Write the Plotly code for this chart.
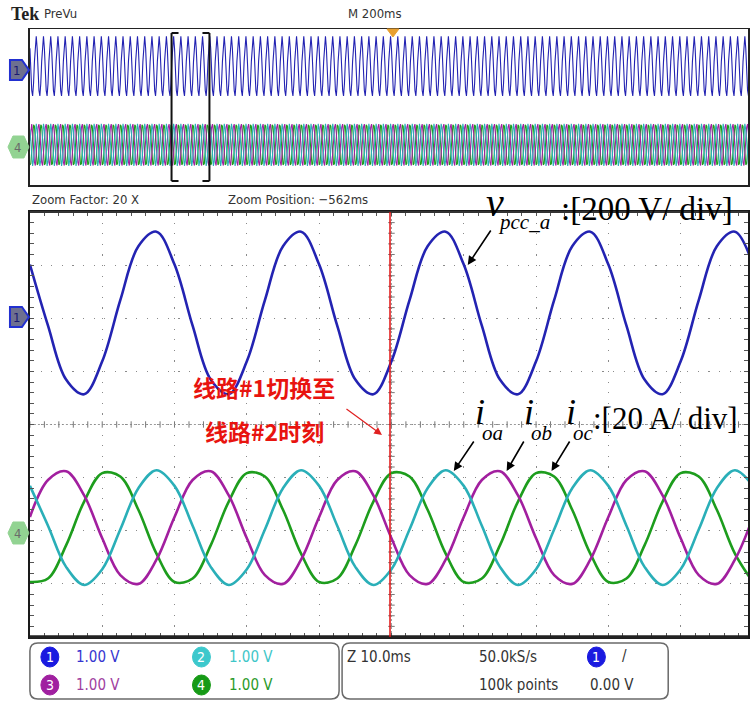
import numpy as np
import plotly.graph_objects as go

W, H = 750, 701

time_ms = [2.5 * k for k in range(41)]          # 0 … 100 ms, zoomed window (10 ms/div)
v_pcc_a = [182, -48, -251, -306, -182, 48, 251, 306,
           182, -48, -251, -306, -182, 48, 251, 306,
           182, -48, -251, -306, -182, 48, 251, 306,
           182, -48, -251, -306, -182, 48, 251, 306,
           182, -48, -251, -306, -182, 48, 251, 306,
           182]                                   # V
i_oa = [15.7, 0.7, -14.8, -21.6, -15.7, -0.7, 14.8, 21.6,
        15.7, 0.7, -14.8, -21.6, -15.7, -0.7, 14.8, 21.6,
        15.7, 0.7, -14.8, -21.6, -15.7, -0.7, 14.8, 21.6,
        15.7, 0.7, -14.8, -21.6, -15.7, -0.7, 14.8, 21.6,
        15.7, 0.7, -14.8, -21.6, -15.7, -0.7, 14.8, 21.6,
        15.7]                                     # A
i_ob = [4.0, 17.9, 21.2, 12.1, -4.0, -17.9, -21.2, -12.1,
        4.0, 17.9, 21.2, 12.1, -4.0, -17.9, -21.2, -12.1,
        4.0, 17.9, 21.2, 12.1, -4.0, -17.9, -21.2, -12.1,
        4.0, 17.9, 21.2, 12.1, -4.0, -17.9, -21.2, -12.1,
        4.0, 17.9, 21.2, 12.1, -4.0, -17.9, -21.2, -12.1,
        4.0]
i_oc = [-20.5, -19.2, -6.7, 9.8, 20.5, 19.2, 6.7, -9.8,
        -20.5, -19.2, -6.7, 9.8, 20.5, 19.2, 6.7, -9.8,
        -20.5, -19.2, -6.7, 9.8, 20.5, 19.2, 6.7, -9.8,
        -20.5, -19.2, -6.7, 9.8, 20.5, 19.2, 6.7, -9.8,
        -20.5, -19.2, -6.7, 9.8, 20.5, 19.2, 6.7, -9.8,
        -20.5]
v_scale = 200.0      # V/div
i_scale = 20.0       # A/div
v_offset = 2.1       # div
i_offset = -1.94     # div
switch_ms = 49.8     # instant of line #1 -> line #2
zoom_factor = 20
overview_cycles = 100

# ---------------- helpers ----------------
def X(x):
    return x / W
def Y(y):
    return 1 - y / H
def fmt(x, y):
    return f"{X(x):.5f},{Y(y):.5f}"
def poly(pts):
    return "M " + " L ".join(fmt(x, y) for x, y in pts) + " Z"
def rrect(x0, y0, x1, y1, r):
    return (f"M {fmt(x0+r,y0)} L {fmt(x1-r,y0)} Q {fmt(x1,y0)} {fmt(x1,y0+r)} "
            f"L {fmt(x1,y1-r)} Q {fmt(x1,y1)} {fmt(x1-r,y1)} L {fmt(x0+r,y1)} "
            f"Q {fmt(x0,y1)} {fmt(x0,y1-r)} L {fmt(x0,y0+r)} Q {fmt(x0,y0)} {fmt(x0+r,y0)} Z")

C_BLUE = "#2323b2"
C_CYAN = "#2aafb8"
C_MAG = "#a21f9f"
C_GRN = "#1d9d1d"
UI_FONT = "DejaVu Sans Condensed, Liberation Sans Narrow, Roboto Condensed, DejaVu Sans, sans-serif"
SERIF = "Liberation Serif, Times New Roman, serif"

fig = go.Figure()

# ---------------- overview (PreVu) ----------------
step = time_ms[1] - time_ms[0]
n_cyc = 8
ov_t = [k * step for k in range(n_cyc * overview_cycles + 1)]
def tile(a):
    return list(np.tile(a[:n_cyc], overview_cycles)) + [a[0]]
for arr, col, sc, off in [(i_oc, C_GRN, i_scale, i_offset), (i_ob, C_MAG, i_scale, i_offset),
                          (i_oa, C_CYAN, i_scale, i_offset), (v_pcc_a, C_BLUE, v_scale, v_offset)]:
    fig.add_trace(go.Scatter(x=ov_t, y=[v / sc + off for v in tile(arr)], mode="lines",
                             line=dict(color=col, width=1.1), xaxis="x2", yaxis="y2",
                             hoverinfo="skip", showlegend=False))

# ---------------- main zoomed traces ----------------
for arr, col, sc, off, nm in [(v_pcc_a, C_BLUE, v_scale, v_offset, "v_pcc_a"),
                              (i_oc, C_GRN, i_scale, i_offset, "i_oc"),
                              (i_ob, C_MAG, i_scale, i_offset, "i_ob"),
                              (i_oa, C_CYAN, i_scale, i_offset, "i_oa")]:
    fig.add_trace(go.Scatter(x=time_ms, y=[v / sc + off for v in arr], mode="lines", name=nm,
                             line=dict(color=col, width=2.6, shape="spline", smoothing=1.0),
                             showlegend=False))

xr_main = [0, 100 * 720 / 725]
xr_ov = [0, 100 * zoom_factor * 720 / 725]

axis_common = dict(showticklabels=False, zeroline=False, fixedrange=True)
fig.update_layout(
    width=W, height=H, margin=dict(l=0, r=0, t=0, b=0),
    paper_bgcolor="white", plot_bgcolor="white", showlegend=False,
    xaxis=dict(domain=[X(30), 1], range=xr_main, anchor="y", dtick=10, tick0=0,
               showgrid=True, gridcolor="#8a8a8a", gridwidth=1, griddash="1.2px,9.4px",
               showline=True, linecolor="#1a1a1a", linewidth=2, mirror="ticks",
               ticks="inside", ticklen=4, tickcolor="#555",
               minor=dict(dtick=2, ticks="inside", ticklen=4, tickcolor="#555", showgrid=False),
               **axis_common),
    yaxis=dict(domain=[Y(637), Y(212)], range=[-4, 4], anchor="x", dtick=1, tick0=0,
               showgrid=True, gridcolor="#8a8a8a", gridwidth=1, griddash="1.2px,9.4px",
               showline=True, linecolor="#1a1a1a", linewidth=2, mirror="ticks",
               ticks="inside", ticklen=4, tickcolor="#555",
               minor=dict(dtick=0.2, ticks="inside", ticklen=4, tickcolor="#555", showgrid=False),
               **axis_common),
    xaxis2=dict(domain=[X(30), 1], range=xr_ov, anchor="y2", showgrid=False,
                showline=True, linecolor="#222", linewidth=1.5, mirror=True, ticks="",
                **axis_common),
    yaxis2=dict(domain=[Y(185), Y(29)], range=[-4, 4], anchor="x2", showgrid=False,
                showline=True, linecolor="#222", linewidth=1.5, mirror=True, ticks="",
                **axis_common),
)

shapes = []
# centre graticule lines with minor ticks
shapes.append(dict(type="line", xref="x", yref="y", x0=xr_main[0], x1=xr_main[1], y0=0, y1=0,
                   line=dict(color="#9a9a9a", width=1, dash="2px,2px"), layer="below"))
shapes.append(dict(type="line", xref="x", yref="y", x0=50, x1=50, y0=-4, y1=4,
                   line=dict(color="#9a9a9a", width=1, dash="2px,2px"), layer="below"))
for k in range(51):
    shapes.append(dict(type="line", xref="x", yref="y", x0=2 * k, x1=2 * k, y0=-0.06, y1=0.06,
                       line=dict(color="#777", width=1), layer="below"))
for k in range(41):
    yy = -4 + 0.2 * k
    shapes.append(dict(type="line", xref="x", yref="y", x0=49.55, x1=50.45, y0=yy, y1=yy,
                       line=dict(color="#777", width=1), layer="below"))
# thick bottom of the graticule
shapes.append(dict(type="line", xref="paper", yref="paper", x0=X(30), x1=1, y0=Y(637), y1=Y(637),
                   line=dict(color="#222", width=3.5)))
shapes.append(dict(type="line", xref="paper", yref="paper", x0=X(30), x1=1, y0=Y(212), y1=Y(212),
                   line=dict(color="#333", width=2)))
# switching instant
shapes.append(dict(type="line", xref="x", yref="y", x0=switch_ms, x1=switch_ms, y0=-4, y1=4,
                   line=dict(color="#e01010", width=1.5)))
# zoom bracket in the overview
for (xa, xb) in [(172, 179), (210, 203)]:
    shapes.append(dict(type="line", xref="paper", yref="paper", x0=X(xa), x1=X(xa), y0=Y(33), y1=Y(181),
                       line=dict(color="#111", width=2)))
    for yy in (33, 181):
        shapes.append(dict(type="line", xref="paper", yref="paper", x0=X(xa), x1=X(xb), y0=Y(yy), y1=Y(yy),
                           line=dict(color="#111", width=2)))
# trigger marker
shapes.append(dict(type="path", xref="paper", yref="paper", path=poly([(388, 29), (400, 29), (394, 37)]),
                   fillcolor="#e8a030", line=dict(color="#e8a030", width=1)))
# channel markers
for cy in (317, 70):
    shapes.append(dict(type="path", xref="paper", yref="paper",
                       path=poly([(10, cy - 10), (22, cy - 10), (29, cy), (22, cy + 10), (10, cy + 10)]),
                       fillcolor="#6e7090", line=dict(color="#2230d0", width=2)))
for cy in (533, 147):
    shapes.append(dict(type="path", xref="paper", yref="paper",
                       path=poly([(13, cy - 11), (24, cy - 11), (29, cy), (24, cy + 11), (13, cy + 11), (8, cy)]),
                       fillcolor="#92d392", line=dict(color="#92d392", width=1)))
# status bar boxes
shapes.append(dict(type="path", xref="paper", yref="paper", path=rrect(30, 643, 340, 699, 8),
                   line=dict(color="#6a6a6a", width=1.5), fillcolor="rgba(0,0,0,0)"))
shapes.append(dict(type="path", xref="paper", yref="paper", path=rrect(343, 643, 670, 699, 8),
                   line=dict(color="#6a6a6a", width=1.5), fillcolor="rgba(0,0,0,0)"))
for (cx, cy, col) in [(50, 657, "#1a1ae0"), (50, 685, "#a020a0"), (202, 657, "#3cc8cc"),
                      (202, 685, "#169a16"), (598, 657, "#1a1ae0")]:
    shapes.append(dict(type="circle", xref="paper", yref="paper", x0=X(cx - 9), x1=X(cx + 9),
                       y0=Y(cy + 10), y1=Y(cy - 10), fillcolor=col, line=dict(color=col, width=1)))
fig.update_layout(shapes=shapes)

ann = []
def txt(x, y, s, size=13, color="#333", family=UI_FONT, xanchor="left", yanchor="middle", **kw):
    ann.append(dict(x=X(x), y=Y(y), xref="paper", yref="paper", text=s, showarrow=False,
                    xanchor=xanchor, yanchor=yanchor, font=dict(size=size, color=color, family=family), **kw))

txt(9, 14, "<b>Tek</b>", size=18, color="#222", family="Liberation Serif, serif")
txt(42, 14, "PreVu", size=13)
txt(347, 14, "M 200ms", size=13)
txt(30, 199, "Zoom Factor: 20 X", size=13)
txt(227, 199, "Zoom Position: −562ms", size=13)
# channel marker digits
for cy in (317, 70):
    txt(17, cy, "1", size=13, color="#1a1a70", xanchor="center")
for cy in (533, 147):
    txt(18, cy, "4", size=13, color="#6a6a6a", xanchor="center")
# status bar texts
for (cx, cy, d) in [(50, 657, "1"), (50, 685, "3"), (202, 657, "2"), (202, 685, "4"), (598, 657, "1")]:
    txt(cx, cy, d, size=14, color="white", xanchor="center")
txt(74, 657, "1.00 V", size=15, color="#3535d0")
txt(74, 685, "1.00 V", size=15, color="#a040a0")
txt(228, 657, "1.00 V", size=15, color="#3ec6c8")
txt(228, 685, "1.00 V", size=15, color="#2a9a2a")
txt(346, 657, "Z 10.0ms", size=15)
txt(478, 657, "50.0kS/s", size=15)
txt(478, 685, "100k points", size=15)
txt(622, 656, "/", size=15)
txt(590, 685, "0.00 V", size=15)
# red annotation
txt(265, 387, "<b>线路#1切换至</b>", size=23, color="#e8140f", family="Noto Sans CJK SC", xanchor="center")
txt(265, 431, "<b>线路#2时刻</b>", size=23, color="#e8140f", family="Noto Sans CJK SC", xanchor="center")
ann.append(dict(x=X(383), y=Y(435), xref="paper", yref="paper", ax=-37, ay=-27, text="",
                showarrow=True, arrowhead=2, arrowsize=1.3, arrowwidth=1.2, arrowcolor="#e02020"))
# variable labels
txt(485, 203, "<i>v</i>", size=40, color="black", family=SERIF)
txt(497, 222, "<i>pcc_a</i>", size=21, color="black", family=SERIF)
txt(560, 209, ":[200 V/ div]", size=33, color="black", family=SERIF)
for (xi, sub) in [(474, "oa"), (523, "ob"), (566, "oc")]:
    txt(xi, 412, "<i>i</i>", size=36, color="black", family=SERIF)
    txt(xi + 7, 433, f"<i>{sub}</i>", size=21, color="black", family=SERIF)
txt(593, 418, ":[20 A/ div]", size=31, color="black", family=SERIF)
for (hx, hy, tx, ty) in [(469, 265, 493, 229), (455, 471, 476, 440), (508, 471, 526, 440), (553, 471, 572, 440)]:
    ann.append(dict(x=X(hx), y=Y(hy), xref="paper", yref="paper", ax=tx - hx, ay=ty - hy, text="",
                    showarrow=True, arrowhead=2, arrowsize=1.1, arrowwidth=1.6, arrowcolor="black"))
fig.update_layout(annotations=ann)

fig.write_html("out.html", config={"displayModeBar": False, "staticPlot": True})
# remove the default page margin so the 750x701 figure fills the window exactly
with open("out.html", "r", encoding="utf-8") as f:
    page = f.read()
page = page.replace("<head>", "<head><style>html,body{margin:0;padding:0;overflow:hidden;}</style>", 1)
with open("out.html", "w", encoding="utf-8") as f:
    f.write(page)
